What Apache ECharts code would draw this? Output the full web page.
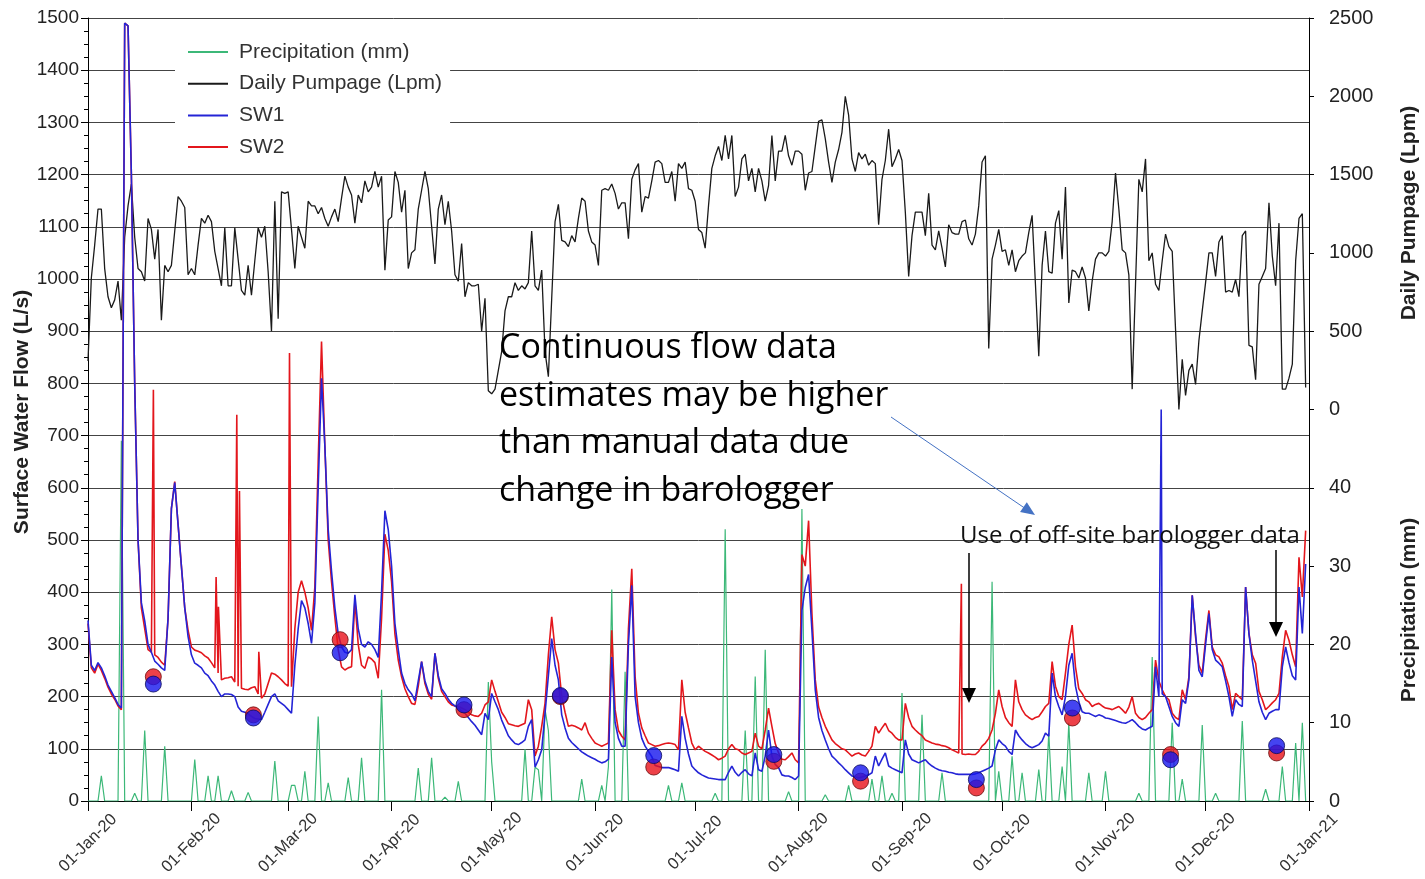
<!DOCTYPE html>
<html>
<head>
<meta charset="utf-8">
<script src="https://cdn.jsdelivr.net/npm/echarts@6/dist/echarts.min.js"></script>
<style>
  html, body { margin: 0; padding: 0; background: #fff; }
  #chart { width: 1425px; height: 879px; }
</style>
</head>
<body>
<div id="chart"></div>
<script>
// Daily series, 2020-01-01 .. 2020-12-31 (one value per day, grouped by month)
const monthNames = ['Jan','Feb','Mar','Apr','May','Jun','Jul','Aug','Sep','Oct','Nov','Dec'];

// Daily pumpage (Lpm)
const pumpage = [
  310,840,1050,1280,1280,900,720,650,700,820,570,1100,1300,1440,1100,900,880,820,1220,1150,960,1150,570,920,880,920,1140,1360,1330,1290,860,
  900,860,1050,1220,1190,1240,1200,1010,900,790,1160,790,790,1160,960,760,730,920,730,950,1160,1100,1170,880,500,1330,580,1390,1380,
  1390,1150,900,1170,1100,1030,1330,1300,1300,1250,1290,1220,1170,1230,1280,1200,1350,1490,1420,1370,1190,1370,1320,1460,1390,1420,1520,1420,1490,890,1210,
  1230,1520,1450,1260,1400,900,1000,1020,1280,1400,1520,1410,1170,930,1280,1370,1180,1330,1140,860,820,1060,720,810,790,790,800,500,710,120,
  100,130,250,370,630,720,720,810,760,790,770,810,1140,790,760,890,370,210,710,1200,1310,1080,1070,1040,1110,1070,1220,1350,1330,1140,1070,
  1050,920,1400,1410,1400,1440,1380,1280,1320,1320,1090,1470,1530,1570,1260,1360,1350,1460,1580,1590,1570,1450,1450,1520,1330,1570,1540,1580,1410,1400,
  1330,1150,1130,1030,1300,1540,1620,1680,1590,1750,1600,1750,1360,1420,1600,1630,1460,1540,1390,1540,1460,1330,1430,1750,1460,1650,1650,1750,1620,1560,1650,
  1650,1630,1400,1510,1520,1680,1840,1850,1730,1580,1450,1580,1660,1770,2000,1880,1600,1520,1640,1600,1630,1560,1590,1570,1180,1470,1590,1790,1550,1600,1660,
  1590,1260,850,1110,1260,1260,1260,1110,1380,1050,1020,1140,1030,910,1180,1130,1120,1120,1200,1210,1090,1050,1120,1300,1580,1620,390,960,1050,1150,
  1010,1020,920,1020,880,950,980,1000,1130,1240,800,340,920,1140,880,870,1190,1270,960,1420,680,890,880,840,910,840,630,820,960,1000,1000,
  980,1010,1200,1510,1280,1020,1000,860,130,800,1470,1390,1600,950,1000,800,760,950,1120,1040,1010,510,0,320,90,250,290,160,440,630,
  810,1000,1000,850,1070,1110,750,760,750,830,720,1110,1140,410,400,190,800,850,900,1320,980,790,1190,130,130,200,290,950,1220,1250,140
];

// Daily precipitation (mm)
const precipitation = [
  0,0,0,0,3.2,0,0,0,0,0,46,0,0,0,1,0,0,9,0,0,0,0,0,7,0,0,0,0,0,0,0,
  0,5.3,0,0,0,3.2,0,0,3.2,0,0,0,1.3,0,0,0,0,1.1,0,0,0,0,0,0,0,5.1,0,0,0,
  0,2,2,0,0,3.8,0,0,0,10.8,0,0,2.3,0,0,0,0,0,3,0,0,0,5.5,0,0,0,0,0,14.2,0,0,
  0,0,0,0,0,0,0,0,4.2,0,0,0,5.5,0,0,0,0.5,0,0,0,2.5,0,0,0,0,0,0,0,0,15.2,
  5,0,0,0,0,0,0,0,0,0,6.6,0,0,4.3,4,0,11.7,9,0,0,0,0,0,0,0,0,0,2.8,0,0,0,
  0,0,2,0,4.4,27,0,0,0,16.5,0,0,0,0,0,0,0,0,0,0,0,0,2,0,0,0,2.3,0,0,0,
  0,0,0,0,0,0,1,0,0,34.7,0,0,0,0,0,9,0,0,15.9,0,0,19.3,0,0,0,0,0,0,1.2,0,0,
  0,37.3,0,0,0,0,0,0,0.8,0,0,0,0,0,0,2,0,0,0,0,0,0,2.8,0,0,3.2,0,0,1,0,0,
  13.8,0,0,0,0,0,11,0,0,0,0,0,3.6,0,0,0,0,0,0,0,0,0,0,0,0,0,0,28,0,3.8,
  0,0,0,5.7,0,0,3.6,0,0,0,0,4,0,0,8.7,0,0,0,4.4,0,10,0,0,0,0,0,3.6,0,0,0,0,
  3.8,0,0,0,0,0,0,0,0,0,1,0,0,0,18.4,0,0,0,0,0,10,0,0,2.8,0,0,0,0,0,9.7,
  0,0,0,1,0,0,0,0,0,0,0,10.2,0,0,0,0,0,0,1.5,0,0,0,0,4.4,0,0,0,7.4,0,10,0
];

// Continuous surface water flow, SW1 (L/s), daily
const sw1 = [
  346,260,250,265,255,240,222,210,198,185,178,1490,1485,1200,800,500,380,345,300,285,268,262,255,250,350,560,610,530,450,370,315,
  280,264,260,255,245,240,230,222,210,200,205,205,204,200,180,172,170,167,162,158,157,156,170,185,200,205,192,187,182,
  175,168,260,330,384,370,340,302,380,600,810,680,520,440,370,320,295,285,283,290,395,330,300,295,305,300,290,275,400,556,520,
  450,340,290,245,225,213,205,192,230,267,230,210,200,283,240,215,206,195,187,182,178,172,168,160,152,145,136,127,168,156,
  206,190,175,155,140,125,117,110,108,112,117,143,156,65,79,98,168,240,311,260,232,165,140,120,112,106,100,94,90,86,83,
  80,76,73,75,80,276,150,120,105,105,300,413,200,150,120,105,95,85,68,66,64,64,64,62,60,57,162,120,90,67,
  60,54,50,47,44,43,42,41,41,41,55,67,55,48,55,60,52,48,92,60,57,86,136,86,70,64,50,48,48,45,41,
  48,365,409,434,327,213,160,135,117,100,86,80,73,67,60,54,48,46,44,46,48,50,54,86,67,80,92,67,63,60,57,
  54,117,90,79,76,73,76,79,72,67,63,60,58,57,55,54,52,51,51,51,51,51,52,54,57,60,63,67,98,117,
  110,105,95,89,136,125,117,110,105,102,105,108,115,130,124,245,200,181,165,200,260,283,220,190,171,168,168,165,162,165,163,
  159,158,156,154,152,150,149,152,156,150,143,138,136,140,143,257,200,205,200,181,162,150,143,194,187,232,394,320,250,238,
  300,359,290,270,264,257,230,200,162,194,185,181,410,320,270,230,190,170,156,168,172,175,175,257,295,265,240,232,410,321,454
];
// Short-lived SW1 readings between daily values: [day of year, L/s]
const sw1Spikes = [[321.7, 750]];

// Continuous surface water flow, SW2 (L/s), daily
const sw2 = [
  340,255,245,262,250,235,218,205,195,182,175,1490,1485,1200,800,500,370,330,290,285,280,275,266,260,350,560,612,530,450,370,327,
  295,289,287,284,278,274,265,255,245,232,235,236,238,228,220,216,214,213,217,219,205,197,205,225,245,243,238,232,225,
  220,219,330,400,422,400,370,327,410,650,880,680,500,420,352,290,257,251,255,257,384,300,260,254,276,272,265,235,350,511,480,
  420,320,270,238,215,200,187,185,220,267,225,205,195,283,235,210,200,190,184,182,181,178,175,170,165,163,162,168,184,190,
  232,210,190,170,160,148,146,144,143,146,149,194,175,86,105,143,187,280,353,290,264,200,170,143,145,143,140,136,150,130,120,
  111,108,105,108,111,327,175,135,124,117,330,445,238,168,140,125,111,108,105,106,108,110,111,110,108,98,232,170,140,111,
  98,105,100,95,92,88,84,79,82,86,100,108,100,98,92,89,92,95,130,105,100,136,178,143,110,92,80,79,85,92,79,
  73,472,450,537,359,232,180,160,143,130,117,110,105,100,98,92,86,90,92,88,86,95,105,143,130,140,149,135,130,122,117,
  117,187,160,143,136,130,125,117,114,111,109,108,106,105,102,98,95,92,90,89,90,89,89,95,105,111,120,136,168,213,
  181,160,150,143,232,190,175,165,160,156,160,162,171,181,187,267,220,200,194,245,300,337,257,215,206,194,190,181,185,187,182,
  178,177,175,178,181,175,168,180,200,168,160,156,160,168,175,270,230,213,200,194,168,160,156,213,194,238,394,314,260,245,
  310,365,295,280,276,264,240,219,175,206,200,194,410,321,280,264,210,194,175,181,188,194,206,276,327,308,280,257,467,391,518
];
// Short-lived SW2 readings between daily values: [day of year, L/s]
const sw2Spikes = [[19.6, 788], [38.4, 429], [39.1, 372], [44.6, 740], [45.4, 594], [51.2, 286], [60.4, 858], [261.8, 416]];

// Manual flow measurements
const manualDates = [
  '2020-01-20T14:00','2020-02-19T14:00','2020-03-16T14:00','2020-04-22T17:00',
  '2020-05-21T14:00','2020-06-18T14:00','2020-07-24T14:00','2020-08-19T14:00',
  '2020-09-23T07:00','2020-10-22T02:00','2020-11-20T12:00','2020-12-22T07:00'
];
const sw1Manual = [224,159,284,184,202,87,89,54,41,178,79,106];
const sw2Manual = [238,165,309,175,200,65,76,38,25,159,89,92];

// The x axis counts days from 1 Jan 2020
const DAY = 86400000;
const origin = Date.UTC(2020, 0, 1);
function dayOf(dateStr) { return (Date.parse(dateStr + 'Z') - origin) / DAY; }
function daily(values) { return values.map((v, i) => [i, v]); }
function withSpikes(values, spikes) {
  const pts = daily(values).concat(spikes.map((s) => [s[0], s[1]]));
  pts.sort((a, b) => a[0] - b[0]);
  return pts;
}
function paired(dates, values) { return dates.map((d, i) => [dayOf(d), values[i]]); }

const monthStarts = [];
for (let m = 0; m <= 12; m++) monthStarts.push((Date.UTC(2020, m, 1) - origin) / DAY);

function monthLabel(day) {
  const d = new Date(origin + Math.round(day) * DAY);
  const dd = String(d.getUTCDate()).padStart(2, '0');
  return dd + '-' + monthNames[d.getUTCMonth()] + '-' + String(d.getUTCFullYear()).slice(2);
}

function arrowHead(x1, y1, x2, y2, len, half) {
  const a = Math.atan2(y2 - y1, x2 - x1);
  const bx = x2 - len * Math.cos(a), by = y2 - len * Math.sin(a);
  return [[x2, y2], [bx + half * Math.sin(a), by - half * Math.cos(a)], [bx - half * Math.sin(a), by + half * Math.cos(a)]];
}

const labelFont = 'Liberation Sans';
const chart = echarts.init(document.getElementById('chart'));

chart.setOption({
  animation: false,
  backgroundColor: '#fff',
  grid: { left: 88, right: 116, top: 18, bottom: 74, containLabel: false },
  legend: {
    data: ['Precipitation (mm)', 'Daily Pumpage (Lpm)', 'SW1', 'SW2'],
    orient: 'vertical',
    left: 175, top: 31,
    backgroundColor: '#fff',
    padding: [10, 8, 10, 13],
    icon: 'rect',
    itemWidth: 40, itemHeight: 2,
    itemGap: 9.7,
    textStyle: { fontFamily: labelFont, fontSize: 21, color: '#333', lineHeight: 22, padding: [0, 0, 0, 6] }
  },
  xAxis: {
    type: 'value',
    min: monthStarts[0],
    max: monthStarts[12],
    axisLine: { show: true, lineStyle: { color: '#000', width: 1 } },
    axisTick: { show: true, length: 10, lineStyle: { color: '#000' }, customValues: monthStarts },
    axisLabel: {
      customValues: monthStarts,
      rotate: 45, margin: 42, align: 'center', verticalAlign: 'middle',
      fontFamily: labelFont, fontSize: 16.5, color: '#333',
      formatter: (v) => monthLabel(v)
    },
    splitLine: { show: false }
  },
  yAxis: [
    {
      type: 'value', position: 'left',
      min: 0, max: 1500, interval: 100,
      axisLine: { show: true, lineStyle: { color: '#000', width: 1 } },
      axisTick: { show: true, length: 7, lineStyle: { color: '#000' } },
      minorTick: { show: true, splitNumber: 4, length: 4, lineStyle: { color: '#000' } },
      axisLabel: { fontFamily: labelFont, fontSize: 19, color: '#222', margin: 9, formatter: (v) => String(v) },
      splitLine: { show: true, lineStyle: { color: '#444', width: 1 } }
    },
    {
      type: 'value', position: 'right',
      min: -2500, max: 2500, interval: 500,
      axisLine: { show: true, lineStyle: { color: '#000', width: 1 } },
      axisTick: { show: true, length: 5, lineStyle: { color: '#000' } },
      axisLabel: {
        fontFamily: labelFont, fontSize: 20, color: '#222', margin: 20,
        formatter: (v) => (v >= 0 ? String(v) : '')
      },
      splitLine: { show: false }
    },
    {
      type: 'value', position: 'right',
      min: 0, max: 100, interval: 10,
      axisLine: { show: false },
      axisTick: { show: false },
      axisLabel: {
        fontFamily: labelFont, fontSize: 20, color: '#222', margin: 20,
        formatter: (v) => (v <= 40 ? String(v) : '')
      },
      splitLine: { show: false }
    }
  ],
  series: [
    {
      name: 'Precipitation (mm)', type: 'line', yAxisIndex: 2,
      data: daily(precipitation), symbol: 'none',
      lineStyle: { color: '#3cb878', width: 1.2 }, itemStyle: { color: '#3cb878' }, z: 2
    },
    {
      name: 'Daily Pumpage (Lpm)', type: 'line', yAxisIndex: 1,
      data: daily(pumpage), symbol: 'none',
      lineStyle: { color: '#1a1a1a', width: 1.3 }, itemStyle: { color: '#1a1a1a' }, z: 3
    },
    {
      name: 'SW2', type: 'line', yAxisIndex: 0,
      data: withSpikes(sw2, sw2Spikes), symbol: 'none',
      lineStyle: { color: '#e3161c', width: 1.6 }, itemStyle: { color: '#e3161c' }, z: 4
    },
    {
      name: 'SW1', type: 'line', yAxisIndex: 0,
      data: withSpikes(sw1, sw1Spikes), symbol: 'none',
      lineStyle: { color: '#2424d6', width: 1.6 }, itemStyle: { color: '#2424d6' }, z: 5
    },
    {
      name: 'SW2 manual', type: 'scatter', yAxisIndex: 0,
      data: paired(manualDates, sw2Manual), symbol: 'circle', symbolSize: 16,
      itemStyle: { color: '#e8121a', borderColor: '#6a0c0c', borderWidth: 1 }, z: 6
    },
    {
      name: 'SW1 manual', type: 'scatter', yAxisIndex: 0,
      data: paired(manualDates, sw1Manual), symbol: 'circle', symbolSize: 16,
      itemStyle: { color: '#1515ee', borderColor: '#0c0c5a', borderWidth: 1 }, z: 7
    }
  ],
  graphic: [
    {
      type: 'text', x: 22, y: 412, rotation: Math.PI / 2,
      style: { text: 'Surface Water Flow (L/s)', fontFamily: labelFont, fontWeight: 'bold', fontSize: 21, fill: '#222',
               align: 'center', verticalAlign: 'middle', textAlign: 'center', textVerticalAlign: 'middle' }
    },
    {
      type: 'text', x: 1409, y: 213, rotation: Math.PI / 2,
      style: { text: 'Daily Pumpage (Lpm)', fontFamily: labelFont, fontWeight: 'bold', fontSize: 21, fill: '#222',
               align: 'center', verticalAlign: 'middle', textAlign: 'center', textVerticalAlign: 'middle' }
    },
    {
      type: 'text', x: 1409, y: 610, rotation: Math.PI / 2,
      style: { text: 'Precipitation (mm)', fontFamily: labelFont, fontWeight: 'bold', fontSize: 21, fill: '#222',
               align: 'center', verticalAlign: 'middle', textAlign: 'center', textVerticalAlign: 'middle' }
    },
    {
      type: 'text', x: 499, y: 325, z: 20,
      style: { text: 'Continuous flow data\nestimates may be higher\nthan manual data due\nchange in barologger',
               fontFamily: 'Open Sans', fontSize: 34, lineHeight: 47.5, fill: '#000',
               align: 'left', verticalAlign: 'top', textAlign: 'left', textVerticalAlign: 'top' }
    },
    {
      type: 'text', x: 960, y: 536, z: 20,
      style: { text: 'Use of off-site barologger data', fontFamily: 'Open Sans', fontSize: 24, fill: '#111',
               align: 'left', verticalAlign: 'middle', textAlign: 'left', textVerticalAlign: 'middle' }
    },
    { type: 'line', z: 20, shape: { x1: 891, y1: 417, x2: 1026, y2: 509 }, style: { stroke: '#4472c4', lineWidth: 1 } },
    { type: 'polygon', z: 20, shape: { points: arrowHead(891, 417, 1035, 515, 14, 6) }, style: { fill: '#4472c4' } },
    { type: 'line', z: 20, shape: { x1: 969, y1: 553, x2: 969, y2: 690 }, style: { stroke: '#000', lineWidth: 1.5 } },
    { type: 'polygon', z: 20, shape: { points: arrowHead(969, 553, 969, 703, 15, 7) }, style: { fill: '#000' } },
    { type: 'line', z: 20, shape: { x1: 1276, y1: 550, x2: 1276, y2: 624 }, style: { stroke: '#000', lineWidth: 1.5 } },
    { type: 'polygon', z: 20, shape: { points: arrowHead(1276, 550, 1276, 637, 15, 7) }, style: { fill: '#000' } }
  ]
});
</script>
</body>
</html>
